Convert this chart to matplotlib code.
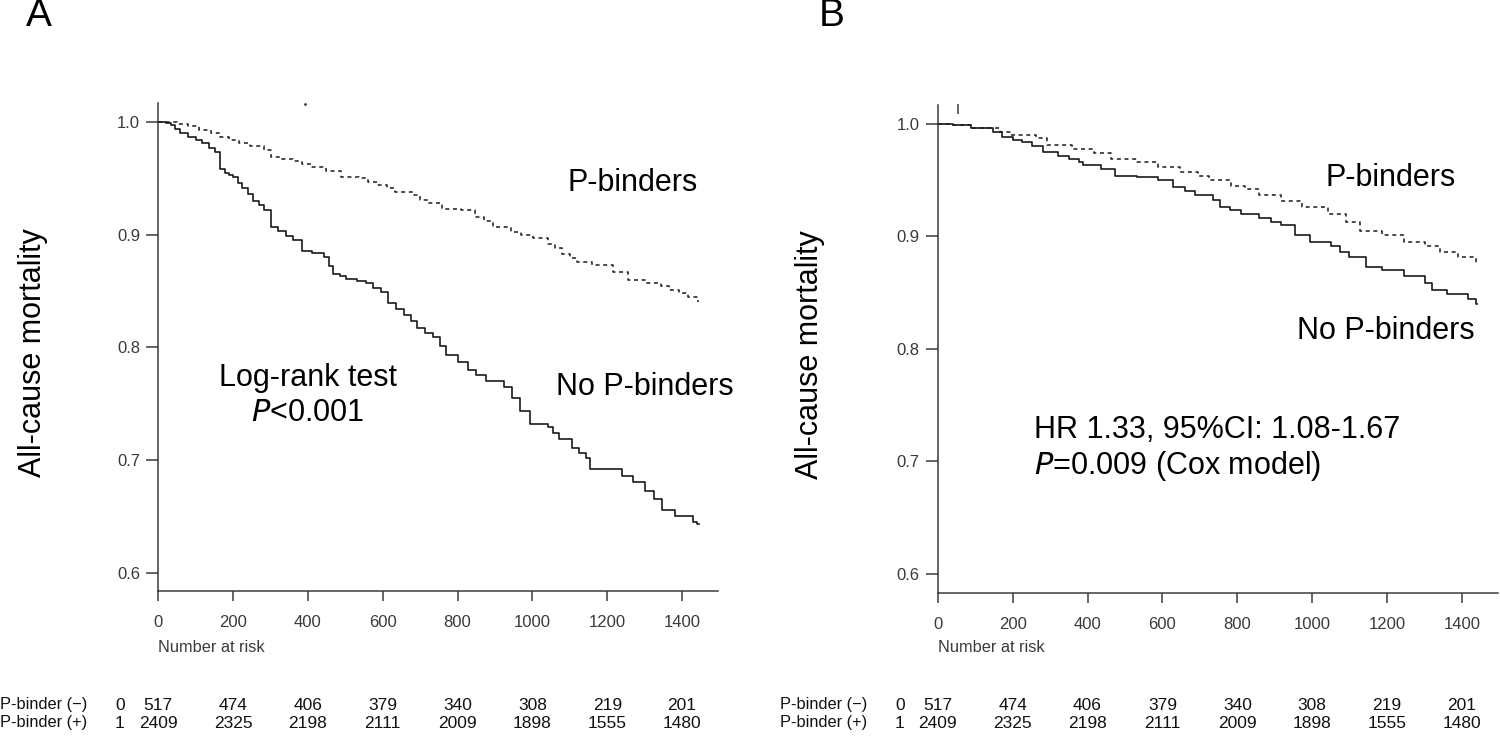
import matplotlib
matplotlib.use('Agg')
import matplotlib.pyplot as plt
from matplotlib.transforms import blended_transform_factory

plt.rcParams['font.family'] = ['Liberation Sans', 'DejaVu Sans']

W, H = 1500, 741

# ---------------- data ----------------
# Panel A, No P-binders (solid)
a_nopb_t = [0, 20, 35, 45, 59, 80, 100, 118, 135, 152, 166, 178, 190, 200, 212, 225, 240,
            254, 268, 283, 302, 320, 340, 361, 385, 410, 443, 455, 468, 485, 502, 530, 555,
            575, 594, 613, 635, 657, 675, 691, 712, 735, 752, 769, 800, 827, 850, 876, 925,
            945, 968, 993, 1041, 1055, 1070, 1105, 1125, 1143, 1153, 1240, 1270, 1300, 1325,
            1345, 1380, 1430, 1440]
a_nopb_s = [1.0, 0.999, 0.997, 0.994, 0.99, 0.987, 0.984, 0.981, 0.977, 0.973, 0.958, 0.955,
            0.953, 0.951, 0.946, 0.941, 0.936, 0.93, 0.926, 0.922, 0.907, 0.903, 0.899, 0.895,
            0.885, 0.884, 0.88, 0.872, 0.865, 0.863, 0.861, 0.859, 0.857, 0.853, 0.849, 0.839,
            0.834, 0.829, 0.823, 0.817, 0.813, 0.809, 0.801, 0.793, 0.787, 0.78, 0.775, 0.77,
            0.765, 0.755, 0.743, 0.732, 0.729, 0.724, 0.719, 0.711, 0.706, 0.702, 0.692, 0.686,
            0.68, 0.672, 0.665, 0.656, 0.65, 0.645, 0.643]
# Panel A, P-binders (dashed)
a_pb_t = [0, 49, 80, 108, 140, 166, 190, 215, 244, 283, 302, 330, 361, 385, 409, 448, 487,
          536, 560, 584, 610, 633, 682, 700, 720, 759, 808, 847, 870, 895, 944, 970, 1002,
          1041, 1060, 1080, 1100, 1119, 1158, 1216, 1255, 1304, 1343, 1365, 1391, 1415, 1440]
a_pb_s = [1.0, 0.998, 0.996, 0.993, 0.99, 0.987, 0.984, 0.981, 0.979, 0.975, 0.969, 0.967,
          0.965, 0.963, 0.96, 0.956, 0.951, 0.95, 0.947, 0.944, 0.941, 0.938, 0.935, 0.931,
          0.928, 0.923, 0.922, 0.916, 0.912, 0.907, 0.902, 0.9, 0.897, 0.892, 0.888, 0.883,
          0.879, 0.876, 0.873, 0.867, 0.86, 0.857, 0.854, 0.851, 0.848, 0.845, 0.841]
# Panel B, No P-binders (solid)
b_nopb_t = [0, 41, 89, 147, 171, 200, 224, 253, 282, 320, 350, 378, 387, 436, 474, 532, 589,
            628, 660, 686, 734, 753, 780, 811, 859, 890, 917, 955, 994, 1051, 1075, 1099, 1143,
            1186, 1244, 1301, 1321, 1359, 1417, 1436]
b_nopb_s = [1.0, 0.999, 0.996, 0.993, 0.988, 0.986, 0.984, 0.98, 0.975, 0.971, 0.969, 0.966,
            0.963, 0.96, 0.954, 0.953, 0.95, 0.944, 0.94, 0.937, 0.932, 0.926, 0.923, 0.92,
            0.916, 0.913, 0.91, 0.901, 0.895, 0.891, 0.886, 0.882, 0.873, 0.87, 0.865, 0.859,
            0.852, 0.849, 0.844, 0.84]
# Panel B, P-binders (dashed)
b_pb_t = [0, 41, 89, 166, 195, 262, 291, 358, 416, 464, 532, 589, 647, 695, 724, 782, 820,
          859, 917, 974, 1042, 1090, 1128, 1186, 1244, 1301, 1340, 1388, 1436]
b_pb_s = [1.0, 0.999, 0.996, 0.993, 0.99, 0.987, 0.981, 0.978, 0.974, 0.969, 0.966, 0.962,
          0.957, 0.954, 0.95, 0.945, 0.942, 0.937, 0.931, 0.926, 0.92, 0.913, 0.905, 0.901,
          0.895, 0.891, 0.886, 0.882, 0.876]

censor_a = [392]
censor_b = [54]

xticks = [0, 200, 400, 600, 800, 1000, 1200, 1400]
yticks = [0.6, 0.7, 0.8, 0.9, 1.0]
ytick_labels = ['0.6', '0.7', '0.8', '0.9', '1.0']

risk_times = [0, 200, 400, 600, 800, 1000, 1200, 1400]
risk_neg = [517, 474, 406, 379, 340, 308, 219, 201]
risk_pos = [2409, 2325, 2198, 2111, 2009, 1898, 1555, 1480]
risk_row_labels = ['P-binder (\u2212)', 'P-binder (+)']
risk_strata = ['0', '1']

# ---------------- figure ----------------
fig = plt.figure(figsize=(W / 100, H / 100), dpi=100)

def box(l, r, top, bot):
    return [l / W, 1 - bot / H, (r - l) / W, (bot - top) / H]

axA = fig.add_axes(box(158.3, 718, 102.7, 591))
axB = fig.add_axes(box(937.7, 1498, 105, 593.3))

GRAY = '#3a3a3a'
LINE = '#1a1a1a'

def style(ax, ylo, yhi):
    ax.set_xlim(0, 1496)
    ax.set_ylim(ylo, yhi)
    for s in ['top', 'right']:
        ax.spines[s].set_visible(False)
    for s in ['left', 'bottom']:
        ax.spines[s].set_color(GRAY)
        ax.spines[s].set_linewidth(1.1)
    ax.set_xticks(xticks)
    ax.set_xticklabels([str(v) for v in xticks])
    ax.set_yticks(yticks)
    ax.set_yticklabels(ytick_labels)
    ax.tick_params(axis='y', length=9, width=1.1, color=GRAY, labelcolor=GRAY,
                   labelsize=12, pad=4)
    ax.tick_params(axis='x', length=7, width=1.1, color=GRAY, labelcolor=GRAY,
                   labelsize=12, pad=10)
    ax.set_facecolor('none')

style(axA, 0.5837, 1.017)
style(axB, 0.5829, 1.0167)

def km(ax, t, s, dashed):
    tt = list(t) + [t[-1] + 4]
    ss = list(s) + [s[-1]]
    if dashed:
        ax.plot(tt, ss, drawstyle='steps-post', color=LINE, lw=1.1,
                linestyle=(0, (2.6, 2.4)), clip_on=False)
    else:
        ax.plot(tt, ss, drawstyle='steps-post', color=LINE, lw=1.2, clip_on=False)

km(axA, a_nopb_t, a_nopb_s, False)
km(axA, a_pb_t, a_pb_s, True)
km(axB, b_nopb_t, b_nopb_s, False)
km(axB, b_pb_t, b_pb_s, True)

axA.plot(censor_a, [1.016] * len(censor_a), marker='.', ms=2, color=GRAY, lw=0, clip_on=False)
axB.plot(censor_b, [1.0135] * len(censor_b), marker='|', ms=7, mew=1.1, color=GRAY, lw=0,
         clip_on=False)

def ftext(x, y, s, **kw):
    fig.text(x / W, 1 - y / H, s, **kw)

# panel letters
ftext(39, 16, 'A', fontsize=28, ha='center', va='center')
ftext(832, 16, 'B', fontsize=28, ha='center', va='center')

# y labels
ftext(33, 353, 'All-cause mortality', fontsize=22, rotation=90, ha='center', va='center')
ftext(810, 355, 'All-cause mortality', fontsize=22, rotation=90, ha='center', va='center')

ann = dict(fontsize=22, va='center')
# Panel A annotations
ftext(567, 183, 'P-binders', ha='left', **ann)
ftext(556, 387, 'No P-binders', ha='left', **ann)
ftext(308, 378, 'Log-rank test', ha='center', **ann)
ftext(308, 413, r'$\it{P}$<0.001', ha='center', **ann)
# Panel B annotations
ftext(1325, 178, 'P-binders', ha='left', **ann)
ftext(1297, 331, 'No P-binders', ha='left', **ann)
ftext(1034, 430, 'HR 1.33, 95%CI: 1.08-1.67', ha='left', **ann)
ftext(1034, 466, r'$\it{P}$=0.009 (Cox model)', ha='left', **ann)

# number at risk tables
def risk_table(ax, x_label, x_strata, y_title):
    tr = blended_transform_factory(ax.transData, fig.transFigure)
    ax.text(0, 1 - y_title / H, 'Number at risk', transform=tr, ha='left', va='center',
            fontsize=11.8, color=GRAY, clip_on=False)
    rows = [risk_neg, risk_pos]
    ys = [705, 723]
    for lab, st, vals, y in zip(risk_row_labels, risk_strata, rows, ys):
        ftext(x_label, y, lab, fontsize=11.8, ha='left', va='center', color='#111111')
        ftext(x_strata, y, st, fontsize=12.5, ha='center', va='center', color='#111111')
        for t, v in zip(risk_times, vals):
            ax.text(t, 1 - y / H, str(v), transform=tr, ha='center', va='center',
                    fontsize=12.5, color='#111111', clip_on=False)

risk_table(axA, 0, 120, 648)
risk_table(axB, 780, 900, 648)

fig.savefig('out.png', dpi=100)
